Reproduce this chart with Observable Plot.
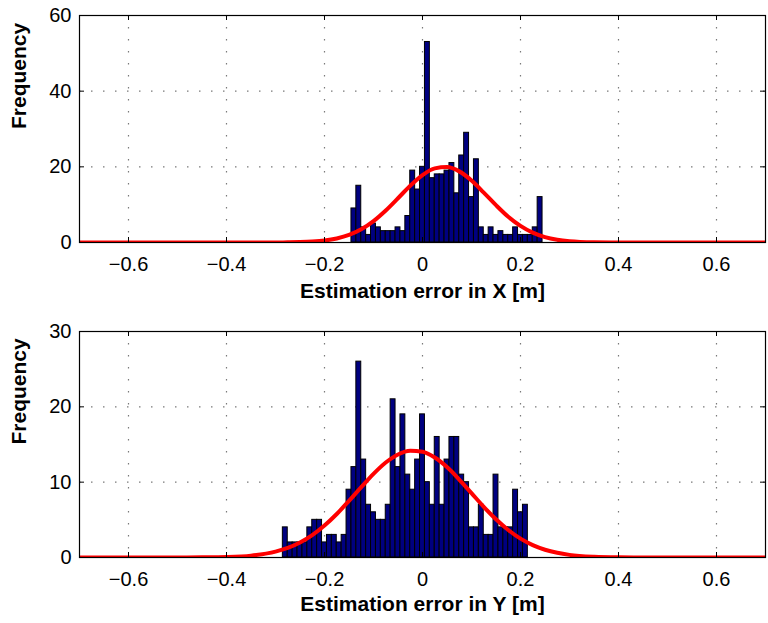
<!DOCTYPE html>
<html>
<head>
<meta charset="utf-8">
<script src="https://cdn.jsdelivr.net/npm/d3@7"></script>
<script src="https://cdn.jsdelivr.net/npm/@observablehq/plot@0.6"></script>
<style>
  html, body { margin: 0; padding: 0; background: white; }
  svg { display: block; }
</style>
</head>
<body>
<div id="chart"></div>
<script>
// ---- Data ----
const xTicks = [-0.6, -0.4, -0.2, 0, 0.2, 0.4, 0.6];
const yTicksTop = [0, 20, 40, 60];
const yTicksBottom = [0, 10, 20, 30];
const binWidth = 0.01;

// Top panel: estimation error in X
const topCenters = [-0.14, -0.13, -0.12, -0.11, -0.10, -0.09, -0.08, -0.07, -0.06, -0.05,
  -0.04, -0.03, -0.02, -0.01, 0.00, 0.01, 0.02, 0.03, 0.04, 0.05,
  0.06, 0.07, 0.08, 0.09, 0.10, 0.11, 0.12, 0.13, 0.14, 0.15,
  0.16, 0.17, 0.18, 0.19, 0.20, 0.21, 0.22, 0.23, 0.24];
const topCounts = [9, 15, 4, 2, 5, 4, 3, 3, 3, 4,
  3, 7, 19, 14, 20, 53, 17, 18, 18, 19,
  21, 13, 23, 29, 12, 22, 4, 2, 4, 2,
  3, 2, 2, 4, 2, 2, 2, 4, 12];

// Bottom panel: estimation error in Y
const bottomCenters = [-0.28, -0.27, -0.26, -0.25, -0.24, -0.23, -0.22, -0.21, -0.20, -0.19,
  -0.18, -0.17, -0.16, -0.15, -0.14, -0.13, -0.12, -0.11, -0.10, -0.09,
  -0.08, -0.07, -0.06, -0.05, -0.04, -0.03, -0.02, -0.01, 0.00, 0.01,
  0.02, 0.03, 0.04, 0.05, 0.06, 0.07, 0.08, 0.09, 0.10, 0.11,
  0.12, 0.13, 0.14, 0.15, 0.16, 0.17, 0.18, 0.19, 0.20, 0.21];
const bottomCounts = [4, 2, 2, 2, 2, 4, 5, 5, 2, 3,
  3, 2, 3, 9, 12, 26, 13, 7, 6, 5,
  5, 7, 21, 12, 19, 11, 9, 13, 19, 10,
  7, 16, 7, 13, 16, 16, 11, 10, 4, 4,
  7, 3, 3, 11, 4, 4, 4, 9, 6, 7];

// Red fitted curves
const curveX = [-0.7, -0.5, -0.45, -0.4, -0.35, -0.3, -0.275, -0.25, -0.225, -0.2,
  -0.175, -0.15, -0.125, -0.1, -0.075, -0.05, -0.025, 0, 0.025, 0.05,
  0.075, 0.1, 0.125, 0.15, 0.175, 0.2, 0.225, 0.25, 0.275, 0.3,
  0.35, 0.4, 0.45, 0.5, 0.7];
const topCurveY = [0, 0, 0, 0, 0, 0.01, 0.04, 0.1, 0.24, 0.52,
  1.07, 2.0, 3.5, 5.66, 8.47, 11.7, 15.0, 17.8, 19.6, 19.94,
  18.8, 16.4, 13.2, 9.86, 6.8, 4.4, 2.6, 1.42, 0.72, 0.34,
  0.06, 0, 0, 0, 0];
const bottomCurveY = [0, 0, 0.02, 0.07, 0.25, 0.78, 1.27, 1.99, 2.97, 4.24,
  5.77, 7.52, 9.34, 11.1, 12.61, 13.68, 14.17, 14.03, 13.27, 12.0,
  10.35, 8.54, 6.73, 5.07, 3.65, 2.5, 1.64, 1.03, 0.62, 0.35,
  0.1, 0.02, 0, 0, 0];

// ---- Drawing ----
const W = 768, mL = 79, mR = 3, mT = 15;
const fmtX = d => d === 0 ? "0" : d3.format(".1f")(d);

function panel({centers, counts, curveY, yMax, yTicks, xLabel, height, marginBottom, titleDy}) {
  const bars = centers.map((c, i) => ({x1: c - binWidth / 2, x2: c + binWidth / 2, count: counts[i]}));
  const curve = curveX.map((x, i) => ({x, y: curveY[i]}));
  const frameW = W - mL - mR;
  const frameH = height - mT - marginBottom;
  const grid = {stroke: "#7a7a7a", strokeWidth: 1.2, strokeDasharray: "1.5,10.5"};
  return Plot.plot({
    width: W,
    height,
    marginLeft: mL,
    marginRight: mR,
    marginTop: mT,
    marginBottom,
    style: {fontFamily: "'Liberation Sans', Arial, Helvetica, sans-serif", fontSize: "20px", background: "white", color: "black"},
    x: {domain: [-0.7, 0.7], ticks: xTicks, tickFormat: fmtX, tickSize: 0, tickPadding: 14, label: null},
    y: {domain: [0, yMax], ticks: yTicks, tickSize: 0, tickPadding: 8, label: null},
    marks: [
      Plot.ruleX(xTicks, {x: d => d, ...grid}),
      Plot.ruleY(yTicks, {y: d => d, ...grid}),
      Plot.rectY(bars, {x1: "x1", x2: "x2", y: "count", fill: "#000080", stroke: "black", strokeWidth: 1}),
      Plot.line(curve, {x: "x", y: "y", stroke: "#ff0000", strokeWidth: 4, curve: "monotone-x", clip: true}),
      Plot.tickX(xTicks, {x: d => d, insetTop: frameH - 5, stroke: "black"}),
      Plot.tickX(xTicks, {x: d => d, insetBottom: frameH - 5, stroke: "black"}),
      Plot.tickY(yTicks, {y: d => d, insetRight: frameW - 5, stroke: "black"}),
      Plot.tickY(yTicks, {y: d => d, insetLeft: frameW - 5, stroke: "black"}),
      Plot.frame({stroke: "black", strokeWidth: 1.2}),
      Plot.text(["Frequency"], {text: d => d, frameAnchor: "left", rotate: -90, dx: -60, fontWeight: "bold", fontSize: 21}),
      Plot.text([xLabel], {text: d => d, frameAnchor: "bottom", dy: titleDy, fontWeight: "bold", fontSize: 21})
    ]
  });
}

const chart = document.getElementById("chart");
chart.appendChild(panel({
  centers: topCenters, counts: topCounts, curveY: topCurveY,
  yMax: 60, yTicks: yTicksTop, xLabel: "Estimation error in X [m]",
  height: 316, marginBottom: 74, titleDy: 55
}));
chart.appendChild(panel({
  centers: bottomCenters, counts: bottomCounts, curveY: bottomCurveY,
  yMax: 30, yTicks: yTicksBottom, xLabel: "Estimation error in Y [m]",
  height: 307, marginBottom: 66, titleDy: 53
}));
</script>
</body>
</html>
